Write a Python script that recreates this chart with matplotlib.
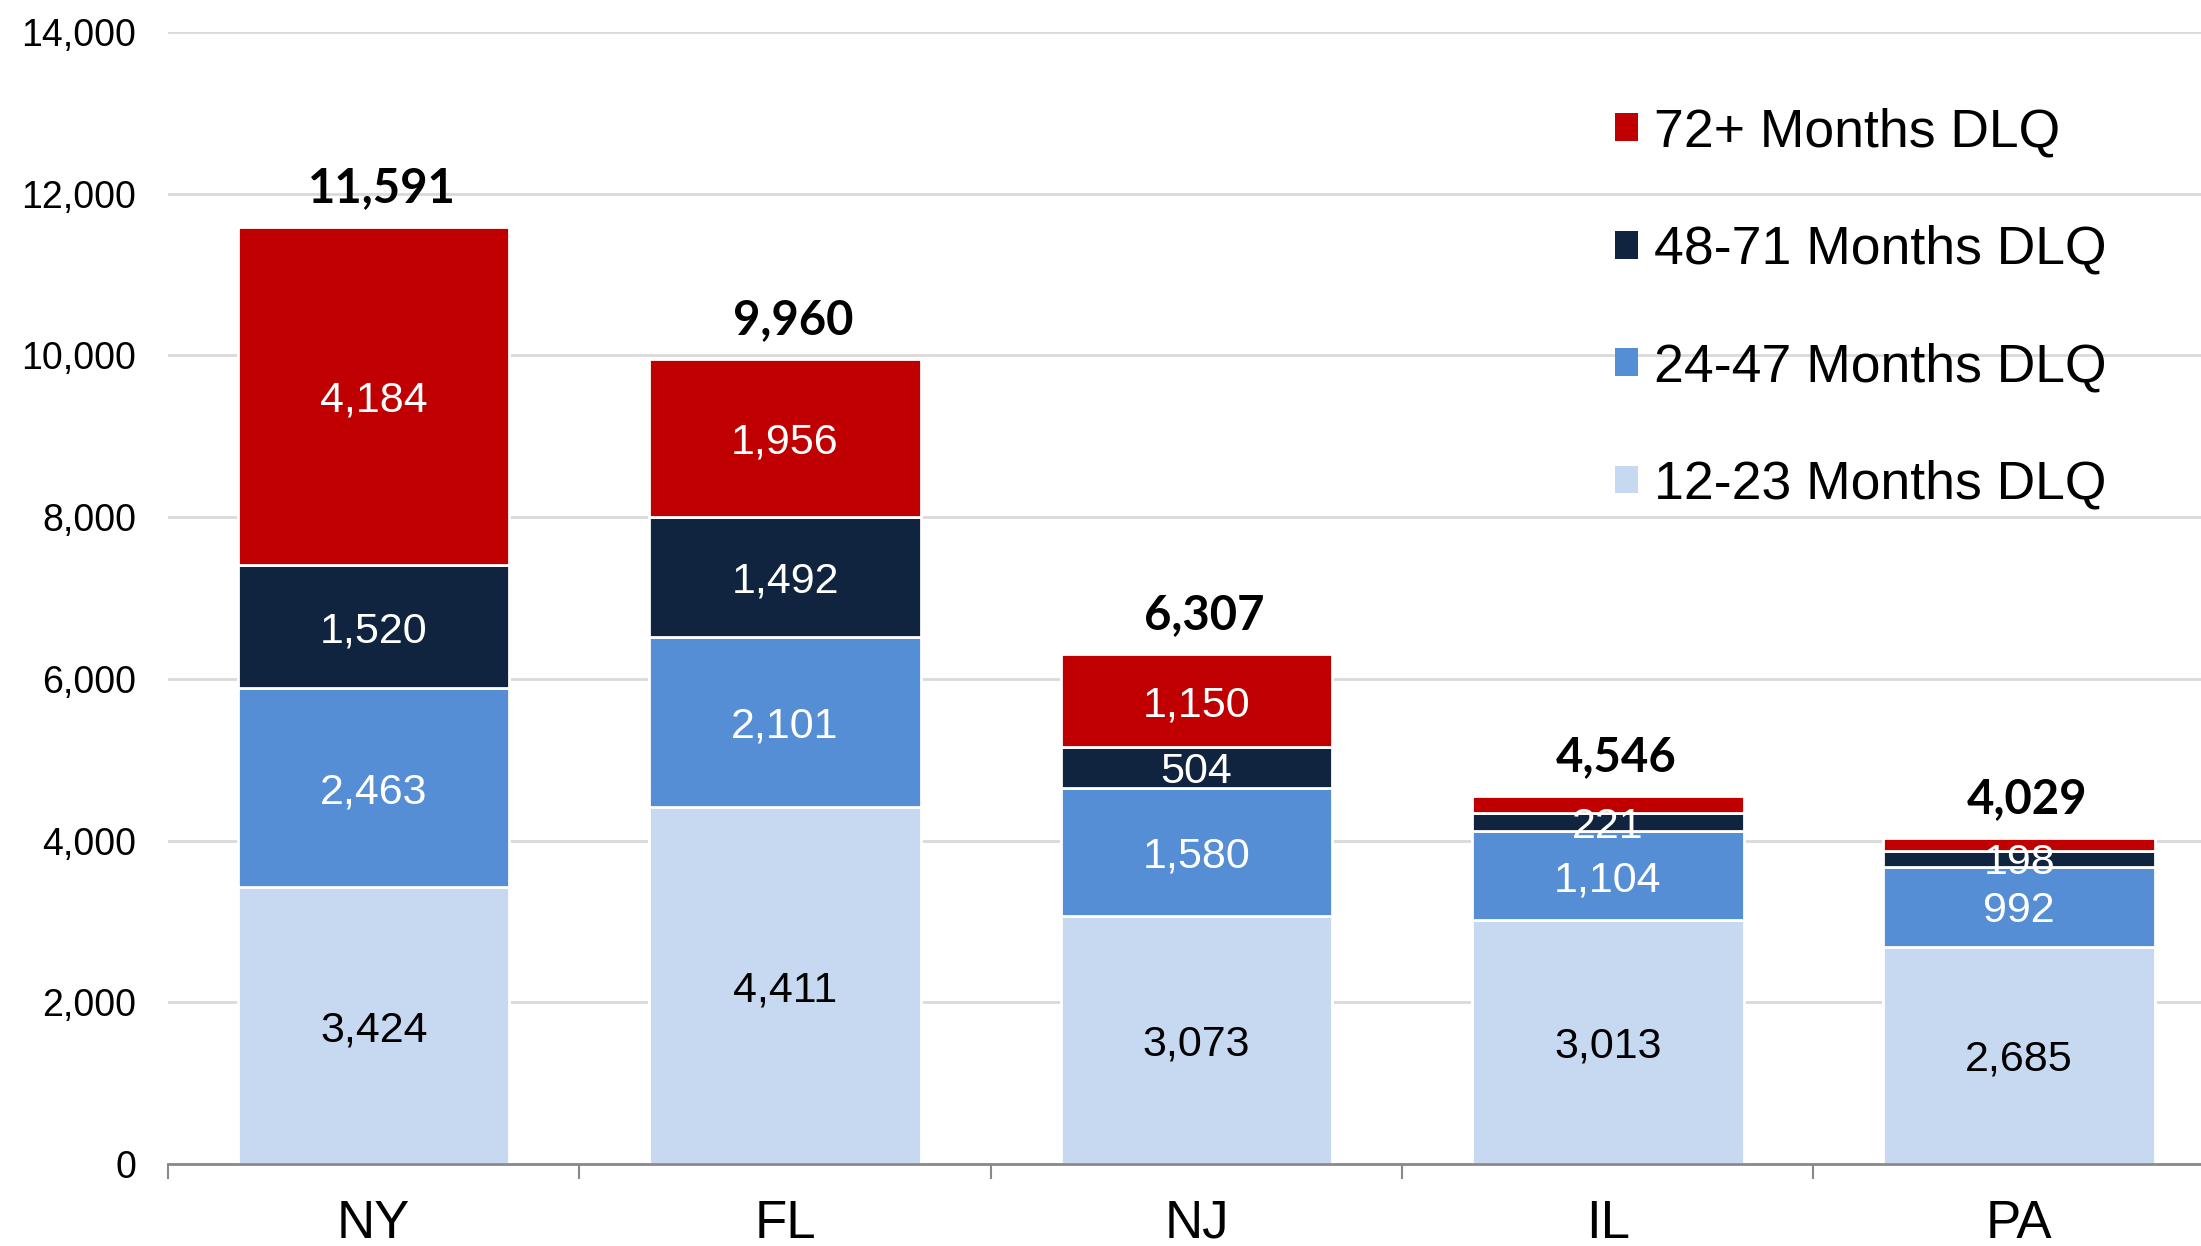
import matplotlib.pyplot as plt
import numpy as np
from matplotlib.patches import Patch
from matplotlib.ticker import FuncFormatter, FixedLocator

# data
states = ["NY", "FL", "NJ", "IL", "PA"]
m12_23 = [3424, 4411, 3073, 3013, 2685]
m24_47 = [2463, 2101, 1580, 1104, 992]
m48_71 = [1520, 1492, 504, 221, 198]
m72 = [4184, 1956, 1150, 208, 154]
totals = [11591, 9960, 6307, 4546, 4029]

series = ["12-23 Months DLQ", "24-47 Months DLQ", "48-71 Months DLQ", "72+ Months DLQ"]
colors = ["#C6D9F1", "#558ED5", "#10243F", "#C00000"]
text_colors = ["black", "white", "white", "white"]

plt.rcParams['font.family'] = ['Liberation Sans', 'DejaVu Sans']

fig = plt.figure(figsize=(22.01, 12.46), dpi=100)
ax = fig.add_axes([168/2201, 1 - 1164/1246, 1 - 168/2201, (1164 - 32)/1246])

x = np.arange(len(states))
vals = [m12_23, m24_47, m48_71, m72]
bottom = np.zeros(len(states))
for i, v in enumerate(vals):
    v = np.array(v)
    ax.bar(x, v, 0.66, bottom=bottom, color=colors[i], edgecolor="white",
           linewidth=2, zorder=3)
    for j in range(len(states)):
        # the thin red slices on IL / PA carry no label
        if i == 3 and v[j] < 250:
            continue
        ax.text(x[j], bottom[j] + v[j]/2, f"{v[j]:,}", ha="center", va="center_baseline",
                fontsize=31, color=text_colors[i], zorder=4)
    bottom += v

for j in range(len(states)):
    ax.annotate(f"{totals[j]:,}", xy=(x[j] + 0.02, totals[j]), xytext=(0, 18),
                textcoords="offset points", ha="center", va="baseline",
                fontsize=34, fontweight="bold", family=["Lato", "DejaVu Sans"])

ax.set_ylim(0, 14000)
ax.set_xlim(-0.5, 4.442)
ax.set_yticks(np.arange(0, 14001, 2000))
ax.yaxis.set_major_formatter(FuncFormatter(lambda v, p: f"{int(v):,}"))
ax.tick_params(axis="y", length=0, labelsize=27, pad=23)
ax.grid(axis="y", color="#D9D9D9", linewidth=2, zorder=0)

ax.set_xticks(x)
ax.set_xticklabels(states)
ax.tick_params(axis="x", which="major", length=0, labelsize=38, pad=25)
ax.xaxis.set_minor_locator(FixedLocator(np.arange(-0.5, 5, 1)))
ax.tick_params(axis="x", which="minor", length=11, width=1.5, color="#898989")

for s in ["top", "right", "left"]:
    ax.spines[s].set_visible(False)
ax.spines["bottom"].set_color("#898989")
ax.spines["bottom"].set_linewidth(2)
ax.spines["bottom"].set_zorder(5)

handles = [Patch(facecolor=colors[i], label=series[i]) for i in range(3, -1, -1)]
leg = ax.legend(handles=handles, loc="upper left", bbox_to_anchor=(1594/2201, 1 - 86/1246),
                bbox_transform=fig.transFigure, frameon=False, fontsize=38.5,
                handlelength=0.42, handleheight=0.42, handletextpad=0.3,
                labelspacing=1.26, borderaxespad=0)

fig.savefig("out.png", dpi=100)
